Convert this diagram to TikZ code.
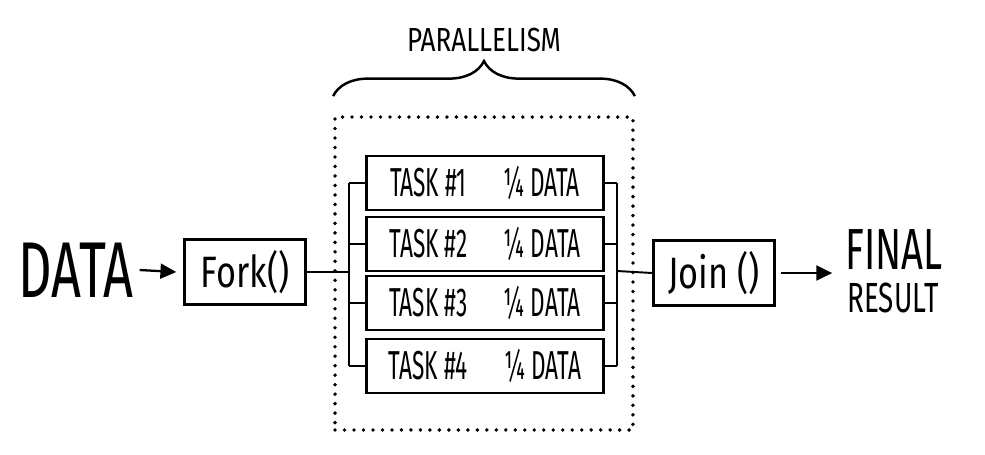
\documentclass[tikz,border=0pt]{standalone}
\usepackage{fontspec}
\setmainfont{Fira Sans}
\newfontfamily\handnarrow{Fira Sans}[FakeStretch=0.56]
\newfontfamily\hand{Fira Sans}[FakeStretch=0.66]
\newfontfamily\handwide{Fira Sans}[FakeStretch=0.78]
\usetikzlibrary{arrows.meta,decorations.pathreplacing}
\tikzset{
  box/.style={draw, line width=1.4pt, inner sep=0pt},
  taskbox/.style={box, minimum width=4.74cm, minimum height=1.08cm, font=\handnarrow\fontsize{23}{23}\selectfont},
  callbox/.style={box, minimum width=2.42cm, minimum height=1.3cm, font=\handwide\fontsize{25}{25}\selectfont},
  arrow/.style={line width=1.3pt, -{Triangle[length=9pt, width=8.5pt]}},
  dotframe/.style={draw, line width=2.2pt, line cap=round, dash pattern=on 0pt off 5.4pt},
}
\begin{document}
\begin{tikzpicture}[x=0.02cm, y=-0.02cm, line width=1.1pt, every node/.style={inner sep=0pt}]
	\useasboundingbox (0,0) rectangle (985,454);
	% input and output
	\node[font=\hand\fontsize{45}{45}\selectfont] (data) at (76,270) {DATA};
	\node[callbox] (fork) at (245,272) {Fork()};
	\node[callbox] (join) at (714,273) {Join ()};
	\node[font=\hand\fontsize{33}{33}\selectfont] (final) at (894,250) {FINAL};
	\node[font=\hand\fontsize{24}{24}\selectfont] (result) at (893,298) {RESULT};
	\draw[arrow] ([xshift=3pt]data.east) -- ([xshift=-4pt]fork.west);
	\draw[arrow] ([xshift=3pt]join.east) -- ([xshift=-7pt]join.east -| final.west);
	% parallel tasks
	\node[dotframe, minimum width=5.96cm, minimum height=6.26cm] (group) at (484,273.5) {};
	\node[taskbox] (t1) at (485,183) {TASK \#1\hspace{0.9em}¼ DATA};
	\node[taskbox] (t2) at (485,244) {TASK \#2\hspace{0.9em}¼ DATA};
	\node[taskbox] (t3) at (485,303) {TASK \#3\hspace{0.9em}¼ DATA};
	\node[taskbox] (t4) at (485,366) {TASK \#4\hspace{0.9em}¼ DATA};
	\coordinate (split) at (349,272);
	\coordinate (merge) at (617,271);
	\draw (fork.east) -- (split);
	\draw (split |- t1) -- (split |- t4);
	\draw (merge |- t1) -- (merge |- t4);
	\foreach \i in {1,...,4} {
		\draw (split |- t\i) -- (t\i.west);
		\draw (t\i.east) -- (merge |- t\i);
	}
	\draw (merge) -- (join.west);
	% brace
	\draw[line width=1.4pt, decorate, decoration={brace, amplitude=0.7cm}]
		([yshift=0.38cm]group.north west) -- ([yshift=0.38cm]group.north east)
		node[midway, yshift=1.12cm, font=\handwide\fontsize{19}{19}\selectfont] (parlabel) {PARALLELISM};
\end{tikzpicture}
\end{document}
